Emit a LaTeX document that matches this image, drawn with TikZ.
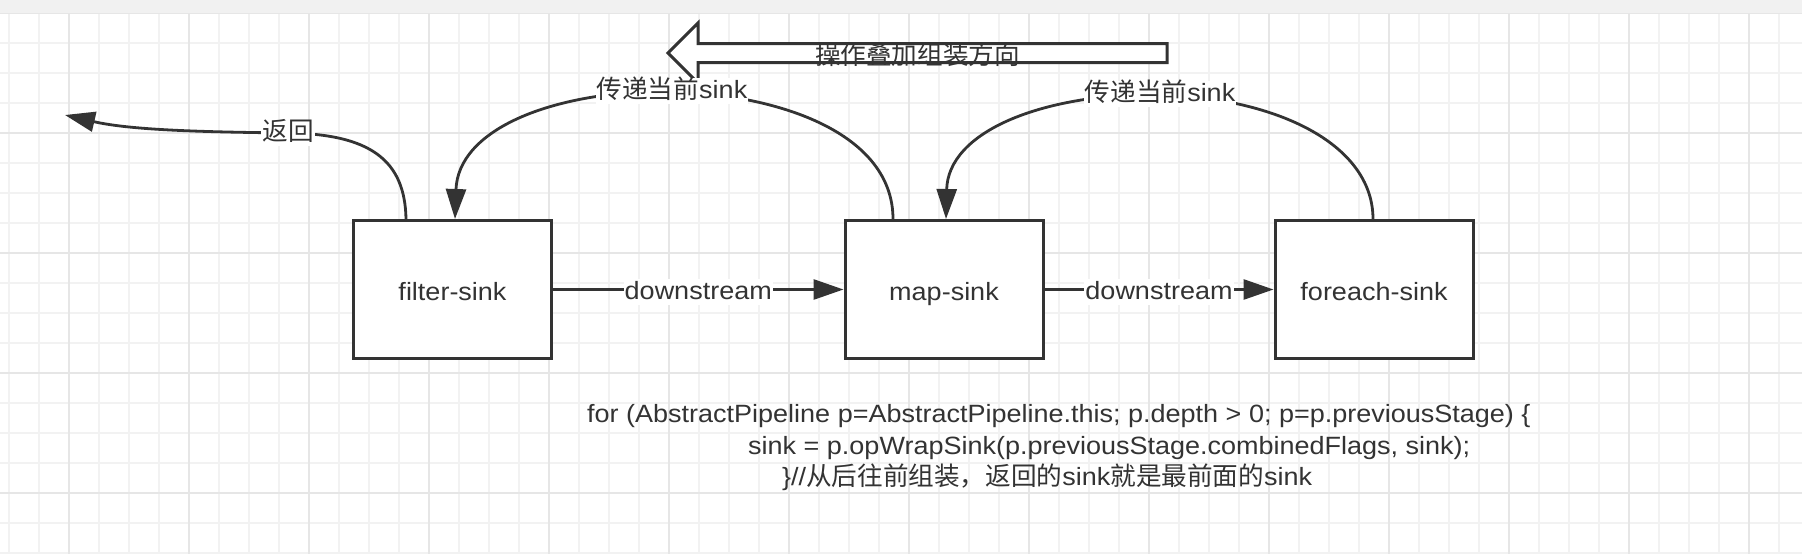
\documentclass[tikz,border=0pt]{standalone}
\usepackage{fontspec}
\setmainfont{Liberation Sans}[FakeStretch=1.08]
\newfontfamily\cjk{Noto Sans CJK SC}[Scale=1.025]
\usetikzlibrary{arrows.meta}
\definecolor{ink}{HTML}{333333}
\definecolor{gridminor}{HTML}{F2F2F2}
\definecolor{gridmajor}{HTML}{E6E6E6}
\definecolor{band}{HTML}{F1F1F1}
\newcommand\fs{\fontsize{25pt}{30pt}\selectfont}
\begin{document}
\begin{tikzpicture}[x=1pt,y=-1pt,
  stagebox/.style={draw=ink, line width=3pt, fill=white, minimum width=198pt, minimum height=138pt, inner sep=0pt, text height=21pt, text depth=0pt, font=\fs, text=ink},
  conn/.style={draw=ink, line width=2.8pt, -{Triangle[length=30pt,width=20pt]}},
  lbl/.style={fill=white, font=\fs, text=ink, inner xsep=1pt, inner ysep=0.5pt, text height=20pt, text depth=5pt},
  codeline/.style={font=\fs, text=ink, anchor=base west, inner sep=0pt},
  minorline/.style={draw=gridminor, line width=1.5pt},
  majorline/.style={draw=gridmajor, line width=1.5pt}
]
\useasboundingbox (0,0) rectangle (1802,554);
\fill[white] (0,0) rectangle (1802,554);
% grid
\foreach \x in {9,39,...,1800} \draw[minorline] (\x,13) -- (\x,554);
\foreach \y in {43,73,...,553} \draw[minorline] (0,\y) -- (1802,\y);
\foreach \x in {69,189,...,1800} \draw[majorline] (\x,13) -- (\x,554);
\foreach \y in {13,133,...,553} \draw[majorline] (0,\y) -- (1802,\y);
\fill[band] (0,0) rectangle (1802,12.5);
% hollow direction arrow
\draw[draw=ink, line width=3pt, fill=white] (668,53) -- (698,23) -- (698,43.5) -- (1167,43.5) -- (1167,62.5) -- (698,62.5) -- (698,83) -- cycle;
\node[font=\fs\cjk, text=ink, inner sep=0pt, anchor=base] (dir) at (917.5,64) {操作叠加组装方向};
% boxes
\node[stagebox] (fsink) at (452.5,289.5) {filter-sink};
\node[stagebox] (msink) at (944,289.5) {map-sink};
\node[stagebox] (esink) at (1374,289.5) {foreach-sink};
% downstream
\draw[conn] (fsink.east) -- node[lbl, yshift=-2pt] (ds1) {downstream} (msink.west);
\draw[conn] (msink.east) -- node[lbl, yshift=-2pt] (ds2) {downstream} (esink.west);
% return
\coordinate (ret) at (65,115);
\draw[conn] ([xshift=54pt]fsink.north west) .. controls (405,160) and (370,134) .. (288,133) node[lbl] (retl) {\cjk 返回} .. controls (200,132) and (130,130) .. (ret);
% pass current sink
\draw[conn] ([xshift=49.5pt]msink.north west) .. controls (893,142) and (800,97) .. (672,91) node[lbl] (pass1) {{\cjk 传递当前}sink} .. controls (550,91) and (458,130) .. ([xshift=103pt]fsink.north west);
\draw[conn] ([xshift=99.5pt]esink.north west) .. controls (1373,150) and (1290,100) .. (1160,94) node[lbl] (pass2) {{\cjk 传递当前}sink} .. controls (1040,94) and (948,132) .. ([xshift=102.5pt]msink.north west);
% code
\node[codeline] (code1) at (587,422) {for (AbstractPipeline p=AbstractPipeline.this; p.depth > 0; p=p.previousStage) \{};
\node[codeline] (code2) at (748,454) {sink = p.opWrapSink(p.previousStage.combinedFlags, sink);};
\node[codeline] (code3) at (782,485) {\}//{\cjk 从后往前组装，返回的}sink{\cjk 就是最前面的}sink};
\end{tikzpicture}
\end{document}
